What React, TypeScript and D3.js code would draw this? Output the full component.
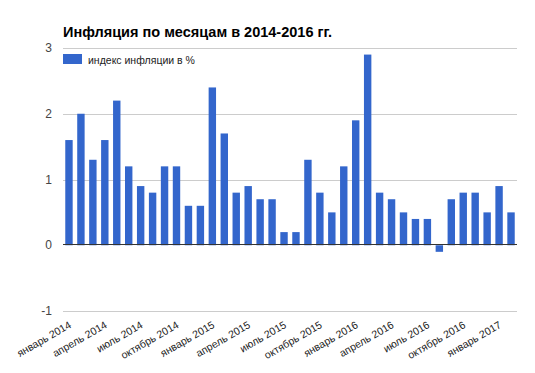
import { useEffect, useRef } from 'react';
import * as d3 from 'd3';

const title = 'Инфляция по месяцам в 2014-2016 гг.';
const seriesName = 'индекс инфляции в %';
const monthNames = ['январь', 'февраль', 'март', 'апрель', 'май', 'июнь', 'июль', 'август', 'сентябрь', 'октябрь', 'ноябрь', 'декабрь'];
const values = [
  1.6, 2.0, 1.3, 1.6, 2.2, 1.2, 0.9, 0.8, 1.2, 1.2, 0.6, 0.6,
  2.4, 1.7, 0.8, 0.9, 0.7, 0.7, 0.2, 0.2, 1.3, 0.8, 0.5, 1.2,
  1.9, 2.9, 0.8, 0.7, 0.5, 0.4, 0.4, -0.1, 0.7, 0.8, 0.8, 0.5,
  0.9, 0.5,
];
const months = values.map((_, i) => `${monthNames[i % 12]} ${2014 + Math.floor(i / 12)}`);
const yTicks = [-1, 0, 1, 2, 3];

export default function App() {
  const ref = useRef<SVGSVGElement>(null);

  useEffect(() => {
    const svg = d3.select(ref.current);
    svg.selectAll('*').remove();

    const x = d3.scaleBand<string>().domain(months).range([63, 517]).paddingInner(0.38).paddingOuter(0.19);
    const y = d3.scaleLinear().domain([-1, 3]).range([311, 48]);
    const font = 'Arial, "Liberation Sans", sans-serif';

    svg.append('rect').attr('width', 535).attr('height', 373).attr('fill', '#fff');

    svg.append('text')
      .attr('x', 63).attr('y', 37)
      .attr('font-family', font).attr('font-size', 14.5).attr('font-weight', 'bold')
      .attr('fill', '#000')
      .text(title);

    // gridlines
    svg.append('g').selectAll('line')
      .data(yTicks.filter(d => d !== 0))
      .join('line')
      .attr('x1', 63).attr('x2', 517)
      .attr('y1', d => Math.round(y(d)) + 0.5).attr('y2', d => Math.round(y(d)) + 0.5)
      .attr('stroke', '#ccc');

    svg.append('g').selectAll('text')
      .data(yTicks)
      .join('text')
      .attr('x', 52).attr('y', d => y(d) + 4)
      .attr('text-anchor', 'end')
      .attr('font-family', font).attr('font-size', 12)
      .attr('fill', '#444')
      .text(d => d);

    // legend
    svg.append('rect').attr('x', 63).attr('y', 54).attr('width', 19).attr('height', 10).attr('fill', '#3366cc');
    svg.append('text')
      .attr('x', 88).attr('y', 63.5)
      .attr('font-family', font).attr('font-size', 10.5)
      .attr('fill', '#222')
      .text(seriesName);

    svg.append('g').selectAll('rect')
      .data(values)
      .join('rect')
      .attr('x', (_, i) => x(months[i])!)
      .attr('width', x.bandwidth())
      .attr('y', d => y(Math.max(0, d)))
      .attr('height', d => Math.abs(y(d) - y(0)))
      .attr('fill', '#3366cc');

    svg.append('line')
      .attr('x1', 63).attr('x2', 517)
      .attr('y1', Math.round(y(0)) - 0.5).attr('y2', Math.round(y(0)) - 0.5)
      .attr('stroke', '#333');

    svg.append('g').selectAll('text')
      .data(months.filter((_, i) => i % 3 === 0))
      .join('text')
      .attr('transform', d => `translate(${x(d)! + x.bandwidth() / 2 + 3},327) rotate(-30)`)
      .attr('text-anchor', 'end')
      .attr('font-family', font).attr('font-size', 10.5)
      .attr('fill', '#222')
      .text(d => d);
  }, []);

  return (
    <svg ref={ref} width={535} height={373} style={{ position: 'absolute', left: 0, top: 0 }} />
  );
}
